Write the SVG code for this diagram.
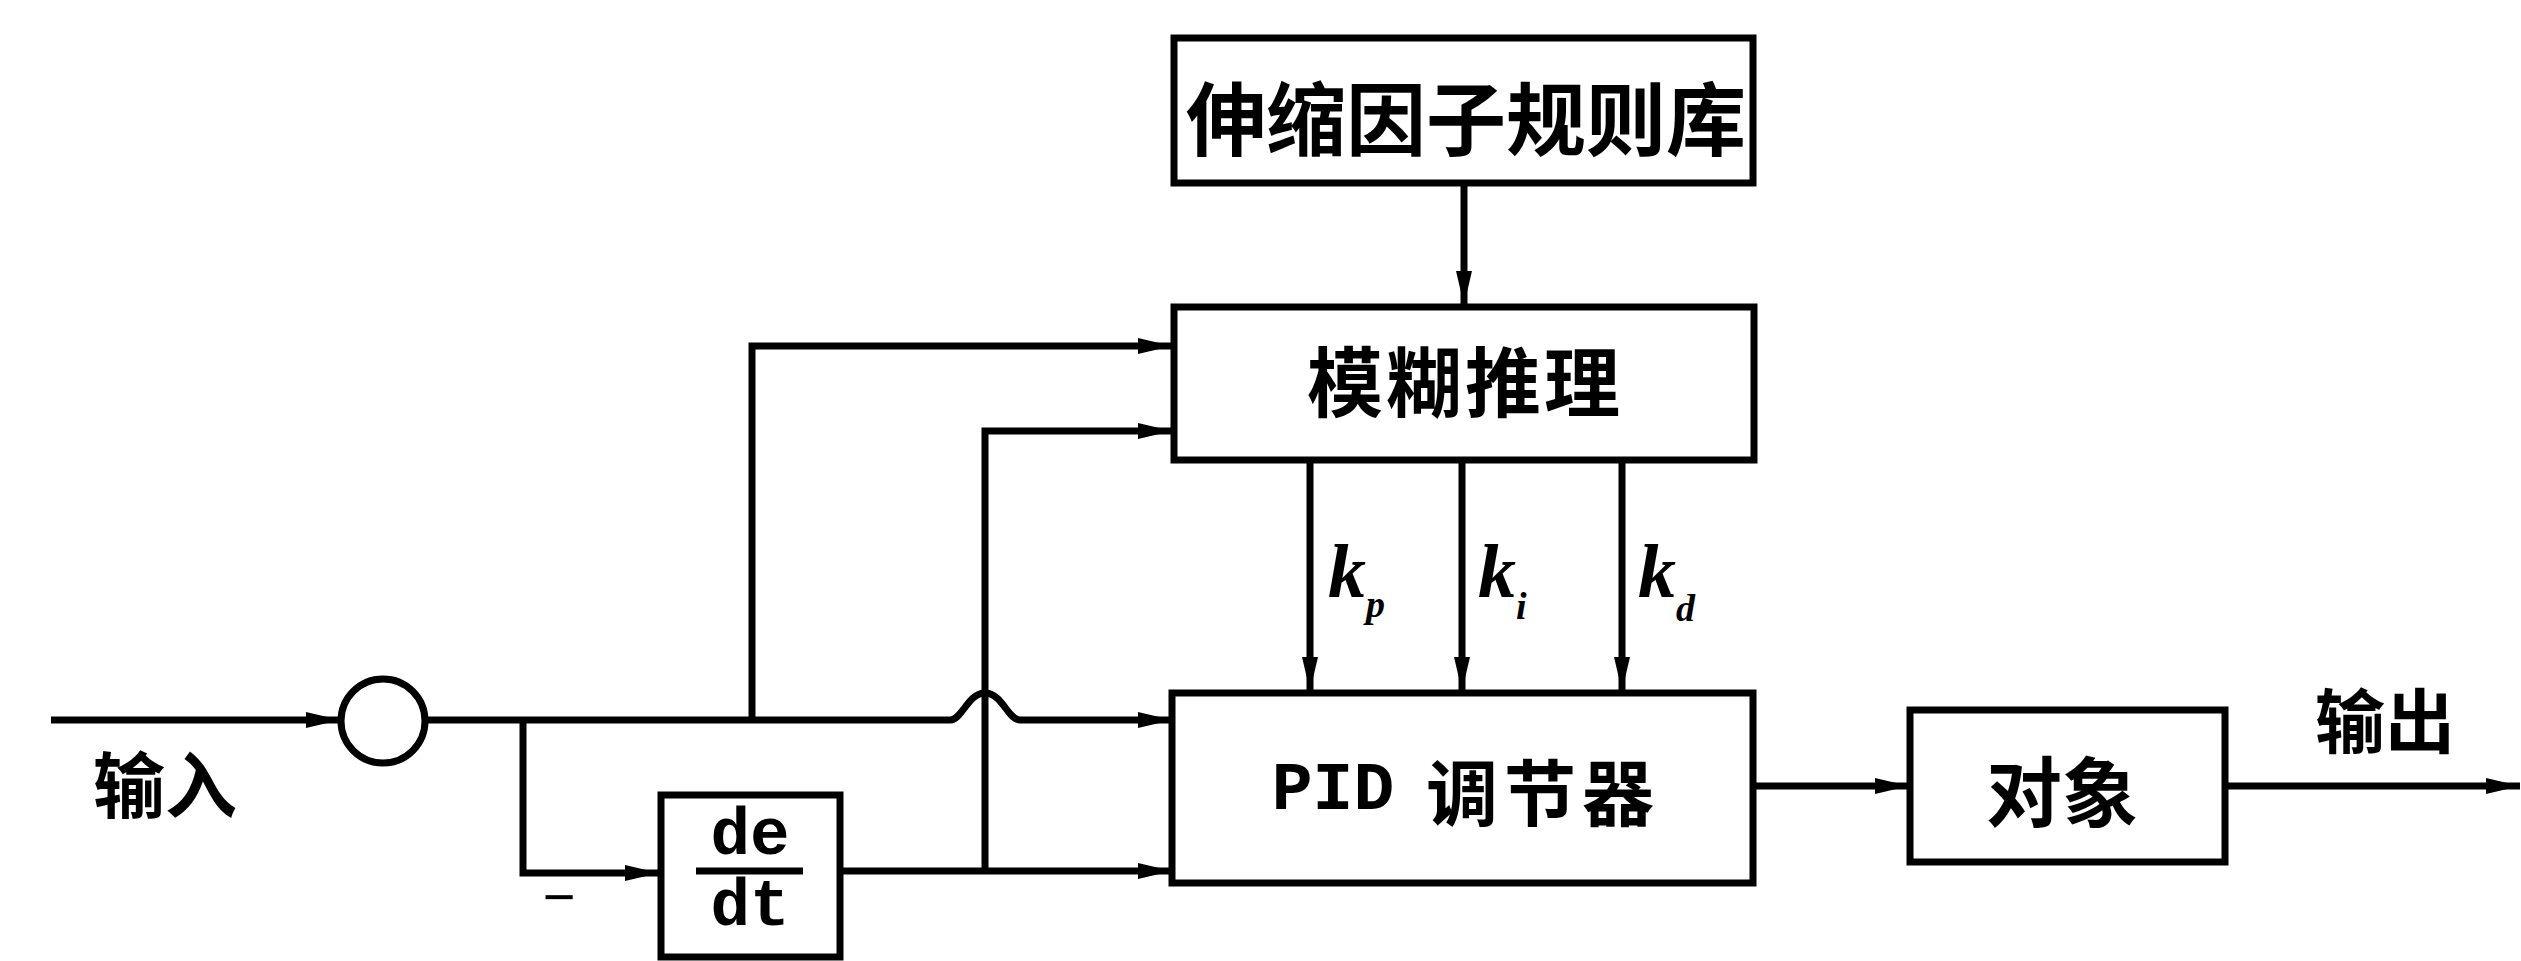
<svg xmlns="http://www.w3.org/2000/svg" width="2521" height="961" viewBox="0 0 2521 961">
<defs>
<style>
.box{fill:#fff;stroke:#000;stroke-width:7}
.ln{fill:none;stroke:#000;stroke-width:7}
.cjk{font-family:"Noto Sans CJK SC","Noto Sans CJK TC",sans-serif;font-weight:700;fill:#000;text-anchor:middle;dominant-baseline:central}
.mono{font-family:"Liberation Mono",monospace;font-weight:700;fill:#000;text-anchor:middle;dominant-baseline:central}
.k{font-family:"Liberation Serif",serif;font-weight:700;font-style:italic;fill:#000}
</style>
<marker id="ah" markerUnits="userSpaceOnUse" markerWidth="34" markerHeight="16" refX="34" refY="8" orient="auto">
<path d="M0,0 L34,8 L0,16 z" fill="#000"/>
</marker>
</defs>
<rect width="2521" height="961" fill="#fff"/>
<g id="connectors">
<path class="ln" d="M51 720 L340 720" marker-end="url(#ah)"/>
<path class="ln" d="M425 720 L950 720 C962 720 968 693 985 693 C1002 693 1008 720 1020 720 L1172 720" marker-end="url(#ah)"/>
<path class="ln" d="M752 720 L752 346 L1172 346" marker-end="url(#ah)"/>
<path class="ln" d="M523 720 L523 873 L659 873" marker-end="url(#ah)"/>
<path class="ln" d="M840 871 L1172 871" marker-end="url(#ah)"/>
<path class="ln" d="M985 871 L985 431 L1172 431" marker-end="url(#ah)"/>
<path class="ln" d="M1464 183 L1464 305" marker-end="url(#ah)"/>
<path class="ln" d="M1310 460 L1310 691" marker-end="url(#ah)"/>
<path class="ln" d="M1462 460 L1462 691" marker-end="url(#ah)"/>
<path class="ln" d="M1622 460 L1622 691" marker-end="url(#ah)"/>
<path class="ln" d="M1754 786 L1909 786" marker-end="url(#ah)"/>
<path class="ln" d="M2225 786 L2520 786" marker-end="url(#ah)"/>
</g>
<g id="sum">
<circle class="box" cx="383" cy="721" r="42"/>
</g>
<g id="rulebase">
<rect class="box" x="1174" y="38" width="579" height="145"/>
<text class="cjk" x="1466" y="114" font-size="80">伸缩因子规则库</text>
</g>
<g id="fuzzy">
<rect class="box" x="1174" y="307" width="580" height="153"/>
<text class="cjk" x="1465" y="378" font-size="76" letter-spacing="3">模糊推理</text>
</g>
<g id="pid">
<rect class="box" x="1172" y="693" width="581" height="190"/>
<text class="mono" x="1333" y="790" font-size="68" font-weight="400">PID</text>
<text class="cjk" x="1543" y="788" font-size="72" letter-spacing="6">调节器</text>
</g>
<g id="plant">
<rect class="box" x="1910" y="710" width="315" height="152"/>
<text class="cjk" x="2062" y="788" font-size="76">对象</text>
</g>
<g id="deriv">
<rect class="box" x="661" y="795" width="179" height="162"/>
<text class="mono" x="750" y="836" font-size="66">de</text>
<line class="ln" x1="696" y1="871" x2="803" y2="871"/>
<text class="mono" x="750" y="907" font-size="66">dt</text>
</g>
<g id="labels">
<text class="cjk" x="165" y="780" font-size="72">输入</text>
<text class="cjk" x="2385" y="717" font-size="70">输出</text>
<text x="559" y="916" font-family="Liberation Sans, sans-serif" font-size="56" text-anchor="middle" fill="#000">−</text>
<text class="k" x="1328" y="597" font-size="76">k<tspan font-size="38" dy="20">p</tspan></text>
<text class="k" x="1478" y="597" font-size="76">k<tspan font-size="38" dy="22">i</tspan></text>
<text class="k" x="1638" y="597" font-size="76">k<tspan font-size="38" dy="24">d</tspan></text>
</g>
</svg>
